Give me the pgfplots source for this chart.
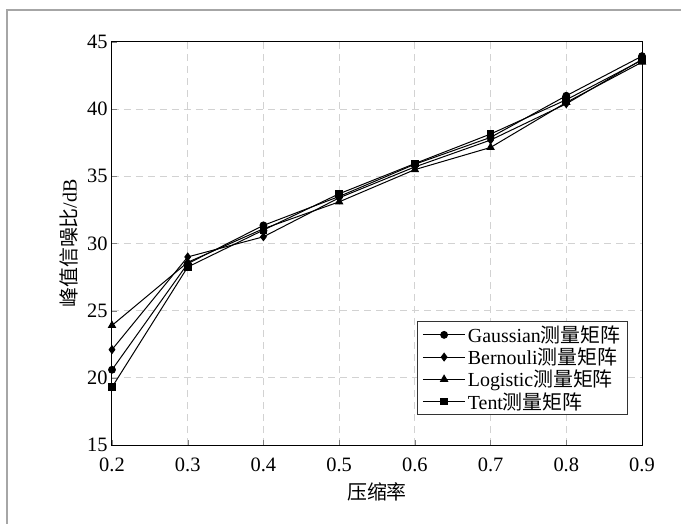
\documentclass[border=0pt]{standalone}
\usepackage{fontspec}
\setmainfont{Liberation Serif}
\newfontfamily\cjk{Noto Sans CJK SC}
\usepackage{pgfplots}
\pgfplotsset{compat=1.18}
\begin{document}
\begin{tikzpicture}
\useasboundingbox (-112bp,-79bp) rectangle (569bp,445bp);
\draw[gray!70, line width=1.5bp] (-105bp,-79bp) -- (-105bp,435bp) -- (569bp,435bp);
\begin{axis}[
  at={(0,0)}, anchor=south west,
  width=530bp, height=403bp, scale only axis,
  xmin=0.2, xmax=0.9, ymin=15, ymax=45,
  xtick={0.2,0.3,...,0.9}, ytick={15,20,...,45},
  xticklabel style={/pgf/number format/fixed, /pgf/number format/precision=1},
  /pgf/number format/assume math mode=true,
  tick align=inside, xtick pos=bottom, ytick pos=left,
  major tick length=5bp,
  ticklabel style={font=\fontsize{20.5}{24}\selectfont},
  xticklabel style={yshift=-9bp},
  yticklabel style={xshift=-1bp},
  grid=major,
  grid style={dash pattern=on 7bp off 5bp, gray!35, line width=1bp},
  axis line style={line width=1bp},
  xlabel={\cjk 压缩率}, ylabel={{\cjk 峰值信噪比}/dB},
  label style={font=\fontsize{20}{24}\selectfont},
  xlabel style={yshift=-4bp},
  ylabel style={yshift=2bp},
  legend style={at={(0.9736,0.0744)}, anchor=south east, draw=black!80, line width=0.8bp,
    font=\fontsize{20}{25}\selectfont, row sep=0bp, inner xsep=5bp, inner ysep=2bp},
  legend cell align=left,
  legend image code/.code={\draw[mark repeat=2,mark phase=2] plot coordinates {(0cm,0cm) (0.75cm,0cm) (1.5cm,0cm)};},
  every axis plot/.append style={black, line width=1bp, mark options={solid, fill=black}},
]
\addplot[mark=*, mark size=3.4bp] coordinates {(0.2,20.6) (0.3,28.5) (0.4,31.35) (0.5,33.5) (0.6,35.9) (0.7,37.9) (0.8,41.0) (0.9,43.95)};
\addlegendentry{Gaussian{\cjk 测量矩阵}}
\addplot[mark=diamond*, mark size=3.8bp] coordinates {(0.2,22.1) (0.3,29.0) (0.4,30.5) (0.5,33.4) (0.6,35.7) (0.7,37.7) (0.8,40.4) (0.9,43.7)};
\addlegendentry{Bernouli{\cjk 测量矩阵}}
\addplot[mark=triangle*, mark size=4bp] coordinates {(0.2,23.9) (0.3,28.6) (0.4,31.1) (0.5,33.1) (0.6,35.5) (0.7,37.15) (0.8,40.5) (0.9,43.5)};
\addlegendentry{Logistic{\cjk 测量矩阵}}
\addplot[mark=square*, mark size=3.3bp] coordinates {(0.2,19.3) (0.3,28.25) (0.4,31.0) (0.5,33.7) (0.6,35.95) (0.7,38.15) (0.8,40.7) (0.9,43.65)};
\addlegendentry{Tent{\cjk 测量矩阵}}
\end{axis}
\end{tikzpicture}
\end{document}
